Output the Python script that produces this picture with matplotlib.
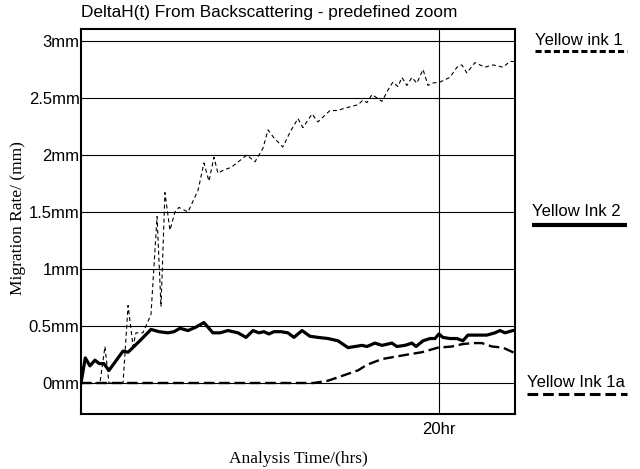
import matplotlib
matplotlib.use("Agg")
import matplotlib.pyplot as plt
from matplotlib.lines import Line2D

# ---- data ----
ink1_t = [0, 1.06, 1.34, 1.56, 2.35, 2.63, 2.91, 3.07, 3.46, 3.91, 4.25, 4.47, 4.69, 4.97,
          5.25, 5.47, 5.98, 6.54, 6.87, 7.15, 7.43, 7.65, 7.99, 8.38, 9.27, 9.72, 10.17,
          10.45, 10.78, 11.28, 11.68, 12.12, 12.40, 12.91, 13.24, 13.91, 14.30, 14.75,
          15.20, 15.47, 15.75, 15.98, 16.26, 16.54, 16.82, 17.15, 17.43, 17.71, 17.93,
          18.21, 18.49, 18.77, 19.11, 19.39, 19.61, 20.06, 20.61, 21.01, 21.28, 21.56,
          22.01, 22.57, 23.02, 23.58, 23.97, 24.25]
ink1_v = [0, 0, 0.32, 0.0, 0.0, 0.68, 0.32, 0.44, 0.44, 0.6, 1.46, 0.67, 1.67, 1.34,
          1.5, 1.54, 1.5, 1.69, 1.93, 1.77, 1.98, 1.84, 1.87, 1.89, 2.0, 1.94, 2.06,
          2.22, 2.15, 2.07, 2.2, 2.32, 2.24, 2.36, 2.29, 2.39, 2.39, 2.41,
          2.43, 2.44, 2.48, 2.46, 2.53, 2.5, 2.47, 2.57, 2.64, 2.6, 2.68,
          2.61, 2.68, 2.63, 2.75, 2.61, 2.63, 2.64, 2.68, 2.77, 2.79, 2.72,
          2.81, 2.77, 2.79, 2.77, 2.82, 2.82]

ink2_t = [0, 0.24, 0.50, 0.78, 1.02, 1.28, 1.56, 1.84, 2.07, 2.35, 2.63, 2.96, 3.35, 3.91,
          4.36, 4.86, 5.20, 5.53, 5.98, 6.42, 6.87, 7.37, 7.77, 8.21, 8.77, 9.22, 9.61,
          9.94, 10.22, 10.50, 10.78, 11.17, 11.56, 11.90, 12.35, 12.79, 13.24, 13.80,
          14.36, 14.92, 15.31, 15.70, 15.98, 16.42, 16.82, 17.37, 17.65, 18.10, 18.49,
          18.72, 19.11, 19.50, 19.78, 20.00, 20.22, 20.61, 21.01, 21.34, 21.62, 22.12,
          22.68, 23.13, 23.41, 23.69, 24.13, 24.25]
ink2_v = [0, 0.22, 0.15, 0.2, 0.17, 0.17, 0.11, 0.17, 0.22, 0.28, 0.27, 0.32, 0.38, 0.47,
          0.45, 0.44, 0.45, 0.48, 0.46, 0.49, 0.53, 0.44, 0.44, 0.46, 0.44, 0.40, 0.46,
          0.44, 0.45, 0.43, 0.45, 0.45, 0.44, 0.40, 0.46, 0.41, 0.40, 0.39,
          0.37, 0.31, 0.32, 0.33, 0.32, 0.35, 0.33, 0.35, 0.32, 0.33, 0.35,
          0.32, 0.37, 0.39, 0.39, 0.43, 0.40, 0.39, 0.39, 0.37, 0.42, 0.42,
          0.42, 0.44, 0.46, 0.44, 0.46, 0.46]

ink1a_t = [0, 13.0, 13.80, 14.36, 15.47, 15.98, 16.82, 17.54, 18.27, 19.05, 19.94, 20.73,
           21.28, 21.84, 22.40, 22.96, 23.58, 24.13, 24.25]
ink1a_v = [0, 0, 0.02, 0.05, 0.11, 0.16, 0.21, 0.23, 0.25, 0.27, 0.31, 0.32,
           0.34, 0.35, 0.35, 0.32, 0.31, 0.27, 0.26]

y_ticks = [0, 0.5, 1, 1.5, 2, 2.5, 3]
y_labels = ["0mm", "0.5mm", "1mm", "1.5mm", "2mm", "2.5mm", "3mm"]
x_ticks = [20]
x_labels = ["20hr"]
series_names = ["Yellow ink 1", "Yellow Ink 2", "Yellow Ink 1a"]
legend_y = [3, 1.5, 0]

SANS = "Liberation Sans"
SERIF = "Liberation Serif"
W, H = 640, 469

fig = plt.figure(figsize=(6.4, 4.69), dpi=100)
ax = fig.add_axes([81 / W, 1 - 414 / H, 434 / W, 385 / H])

ax.set_xlim(0, 24.25)
ax.set_ylim(-0.272, 3.105)

for yv in y_ticks:
    ax.axhline(yv, color="black", lw=0.8, zorder=1)
for xv in x_ticks:
    ax.axvline(xv, color="black", lw=0.8, zorder=1)

ax.plot(ink1_t, ink1_v, color="black", lw=0.8, dashes=(3.6, 2.7), zorder=3)
ax.plot(ink2_t, ink2_v, color="black", lw=2.3, solid_joinstyle="round", zorder=4)
ax.plot(ink1a_t, ink1a_v, color="black", lw=1.7, dashes=(4.5, 2.0), zorder=3)

ax.set_yticks(y_ticks)
ax.set_yticklabels(y_labels, fontfamily=SANS, fontsize=12)
ax.set_xticks(x_ticks)
ax.set_xticklabels(x_labels, fontfamily=SANS, fontsize=12)
ax.tick_params(axis="y", length=0, pad=1)
ax.tick_params(axis="x", length=0, pad=6)
for s in ax.spines.values():
    s.set_linewidth(1.5)

fig.text(298 / W, 1 - 459 / H, "Analysis Time/(hrs)", fontfamily=SERIF, fontsize=12.5,
         ha="center", va="center")
fig.text(18 / W, 1 - 218 / H, "Migration Rate/ (mm)", fontfamily=SERIF, fontsize=12.5,
         ha="center", va="center", rotation=90)

fig.text(81 / W, 1 - 12 / H, "DeltaH(t) From Backscattering - predefined zoom",
         fontfamily=SANS, fontsize=12.4, ha="left", va="center")

# legend at right, aligned to gridlines
leg_styles = [
    dict(lw=2.2, dashes=(2.0, 1.0)),
    dict(lw=3.0),
    dict(lw=2.2, dashes=(3.5, 1.6)),
]
leg_line_dy = [10, 13, 11]
leg_x0 = [535, 532, 527]
for name, yv, st, dy, x0 in zip(series_names, legend_y, leg_styles, leg_line_dy, leg_x0):
    ypix = ax.transData.transform((0, yv))[1]
    yc = ypix / H
    fig.text(x0 / W, yc, name, fontfamily=SANS, fontsize=12, ha="left", va="center")
    ln = Line2D([x0 / W, 627 / W], [yc - dy / H, yc - dy / H], color="black",
                transform=fig.transFigure, solid_capstyle="butt", dash_capstyle="butt", **st)
    fig.add_artist(ln)

fig.savefig("out.png", dpi=100)
